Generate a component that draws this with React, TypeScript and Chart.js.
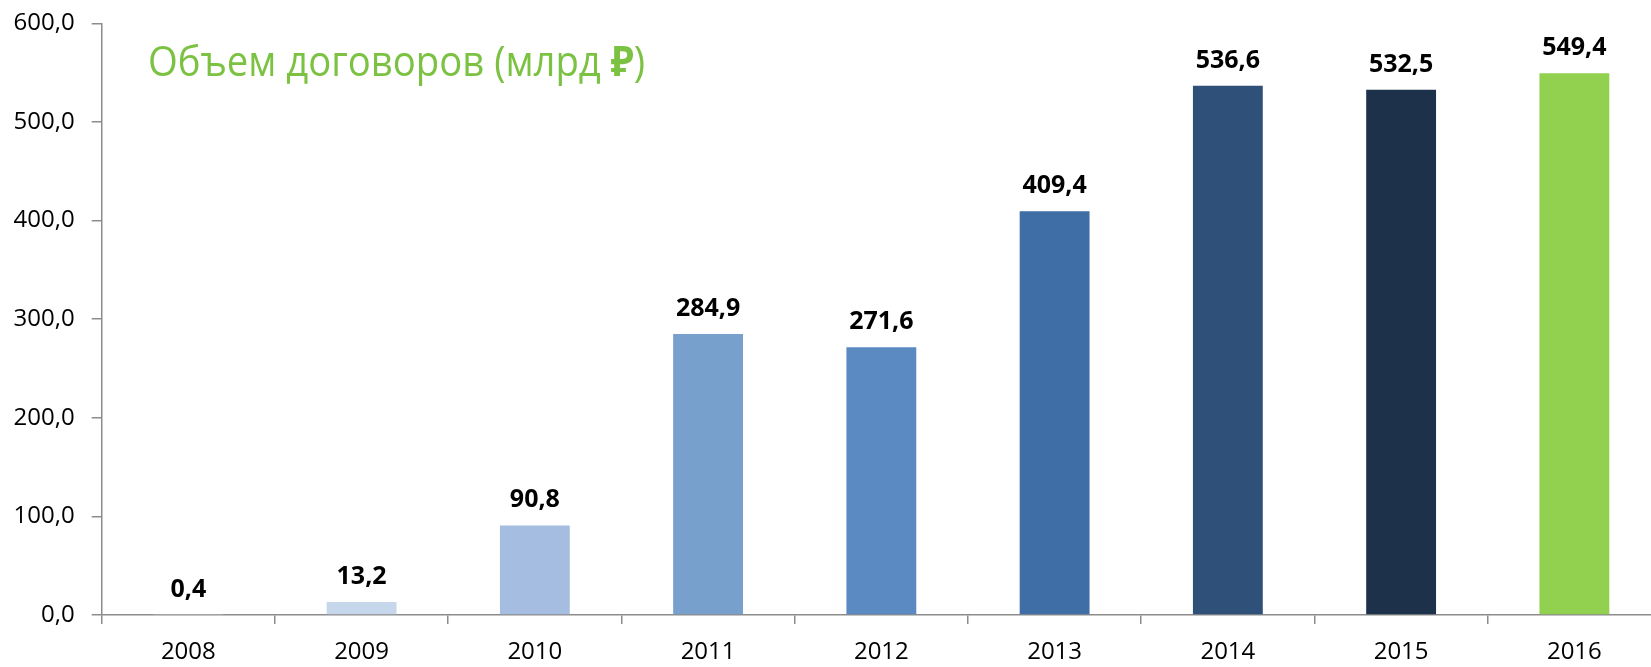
import React, { useEffect, useRef } from "react";
import { Chart, registerables } from "chart.js";

Chart.register(...registerables);

const categories = ["2008", "2009", "2010", "2011", "2012", "2013", "2014", "2015", "2016"];
const contractVolume = [0.4, 13.2, 90.8, 284.9, 271.6, 409.4, 536.6, 532.5, 549.4];
const barColors = ["#dce6f2", "#c6d6eb", "#a5bde0", "#77a0cc", "#5b89c2", "#3f6ea6", "#2f5179", "#1d314b", "#92d050"];
const yMin = 0;
const yMax = 600;
const yStep = 100;
const titleMain = "Объем договоров (млрд ";
const titleCurrency = "₽";
const titleClose = ")";

const FONT = '"Open Sans", "Noto Sans", sans-serif';
const fmt = (v: number) => v.toFixed(1).replace(".", ",");

const valueLabelsPlugin = {
  id: "valueLabels",
  afterDatasetsDraw(chart: any) {
    const ctx = chart.ctx;
    const meta = chart.getDatasetMeta(0);
    ctx.save();
    ctx.font = `bold 25px ${FONT}`;
    ctx.fillStyle = "#000000";
    ctx.textAlign = "center";
    ctx.textBaseline = "alphabetic";
    meta.data.forEach((bar: any, i: number) => {
      const v = chart.data.datasets[0].data[i] as number;
      ctx.fillText(fmt(v), bar.x, bar.y - 18);
    });
    ctx.restore();
  },
};

const titlePlugin = {
  id: "inlineTitle",
  afterDraw(chart: any) {
    const ctx = chart.ctx;
    ctx.save();
    ctx.fillStyle = "#7cc242";
    ctx.textBaseline = "alphabetic";
    ctx.textAlign = "left";
    const regular = `42px ${FONT}`;
    const bold = `bold 42px ${FONT}`;
    ctx.font = regular;
    const w1 = ctx.measureText(titleMain).width;
    const w3 = ctx.measureText(titleClose).width;
    ctx.font = bold;
    const w2 = ctx.measureText(titleCurrency).width;
    const targetWidth = 497;
    const sx = targetWidth / (w1 + w2 + w3);
    ctx.translate(148, 76);
    ctx.scale(sx, 1);
    let x = 0;
    ctx.font = regular;
    ctx.fillText(titleMain, x, 0);
    x += w1;
    ctx.font = bold;
    ctx.fillText(titleCurrency, x, 0);
    x += w2;
    ctx.font = regular;
    ctx.fillText(titleClose, x, 0);
    ctx.restore();
  },
};

export default function App() {
  const canvasRef = useRef<HTMLCanvasElement | null>(null);

  useEffect(() => {
    let chart: Chart | null = null;
    let cancelled = false;
    const make = () => {
      if (cancelled || !canvasRef.current) return;
      chart = new Chart(canvasRef.current, {
        type: "bar",
        data: {
          labels: categories,
          datasets: [
            {
              data: contractVolume,
              backgroundColor: barColors,
              borderWidth: 0,
              barPercentage: 0.8,
              categoryPercentage: 0.504,
            },
          ],
        },
        options: {
          responsive: false,
          animation: false,
          devicePixelRatio: 1,
          layout: { padding: { top: 23.3, right: 4, left: 0, bottom: 0 } },
          plugins: { legend: { display: false }, tooltip: { enabled: false }, title: { display: false } },
          scales: {
            x: {
              grid: {
                display: true,
                drawOnChartArea: false,
                drawTicks: true,
                tickLength: 9,
                color: "#8c8c8c",
                lineWidth: 1.5,
                offset: true,
              },
              border: { display: true, color: "#8c8c8c", width: 1.5 },
              ticks: {
                color: "#000000",
                font: { family: FONT, size: 24 },
                padding: 14,
                maxRotation: 0,
                autoSkip: false,
              },
              afterFit: (s: any) => {
                s.height = 52;
              },
            },
            y: {
              min: yMin,
              max: yMax,
              grid: {
                display: true,
                drawOnChartArea: false,
                drawTicks: true,
                tickLength: 10,
                color: "#8c8c8c",
                lineWidth: 1.5,
              },
              border: { display: true, color: "#8c8c8c", width: 1.5 },
              ticks: {
                stepSize: yStep,
                color: "#000000",
                font: { family: FONT, size: 24 },
                padding: 17,
                callback: (v: any) => fmt(Number(v)),
              },
              afterFit: (s: any) => {
                s.width = 101.7;
                s.paddingTop = 0;
                s.paddingBottom = 0;
              },
            },
          },
        },
        plugins: [valueLabelsPlugin, titlePlugin],
      });
    };
    const fontsApi = (document as any).fonts;
    if (fontsApi && fontsApi.load) {
      Promise.all([
        fontsApi.load(`24px ${FONT}`),
        fontsApi.load(`bold 25px ${FONT}`),
        fontsApi.load(`42px ${FONT}`),
      ])
        .catch(() => {})
        .then(make);
    } else {
      make();
    }
    return () => {
      cancelled = true;
      if (chart) chart.destroy();
    };
  }, []);

  return (
    <div
      style={{
        position: "fixed",
        left: 0,
        top: 0,
        width: 1651,
        height: 667,
        overflow: "hidden",
        background: "#ffffff",
      }}
    >
      <canvas ref={canvasRef} width={1665} height={667} style={{ width: 1665, height: 667, display: "block" }} />
    </div>
  );
}
